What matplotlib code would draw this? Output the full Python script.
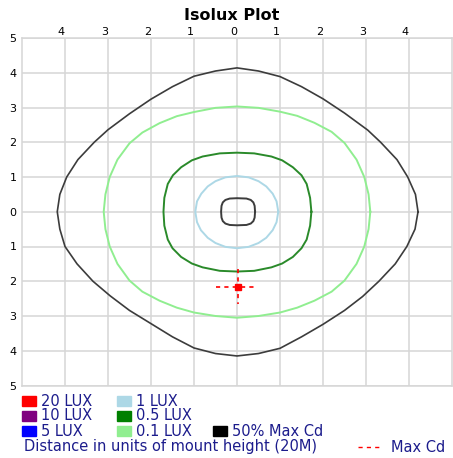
import matplotlib
matplotlib.use("Agg")
import matplotlib.pyplot as plt
from matplotlib.patches import Rectangle

W, H = 453, 458

# contour values (units of mount height)
cd50_x = [4.21, 4.15, 3.97, 3.72, 3.34, 3.04, 2.5, 2.0, 1.5, 1.0, 0.5, 0.0,
          -0.5, -1.0, -1.5, -2.0, -2.5, -3.0, -3.32, -3.7, -3.96, -4.12, -4.18,
          -4.12, -4.0, -3.72, -3.35, -2.95, -2.5, -2.0, -1.5, -1.0, -0.5, 0.0,
          0.5, 1.0, 1.5, 2.0, 2.5, 2.92, 3.30, 3.68, 3.95, 4.14, 4.21]
cd50_y = [0.0, 0.5, 1.0, 1.5, 2.0, 2.35, 2.84, 3.25, 3.6, 3.89, 4.05, 4.14,
          4.05, 3.90, 3.6, 3.24, 2.82, 2.36, 2.0, 1.5, 1.0, 0.5, 0.0,
          -0.5, -1.0, -1.5, -2.0, -2.42, -2.84, -3.22, -3.6, -3.92, -4.08, -4.15,
          -4.08, -3.93, -3.6, -3.24, -2.84, -2.44, -2.0, -1.5, -1.0, -0.5, 0.0]

lux01_x = [3.10, 3.06, 2.96, 2.78, 2.5, 2.2, 1.8, 1.4, 1.0, 0.5, 0.0,
           -0.5, -1.0, -1.4, -1.8, -2.2, -2.5, -2.78, -2.96, -3.06, -3.10,
           -3.06, -2.96, -2.78, -2.5, -2.2, -1.8, -1.4, -1.0, -0.5, 0.0,
           0.5, 1.0, 1.4, 1.8, 2.2, 2.5, 2.78, 2.96, 3.06, 3.10]
lux01_y = [0.0, 0.5, 1.0, 1.5, 1.98, 2.3, 2.56, 2.76, 2.88, 2.99, 3.03,
           2.99, 2.87, 2.75, 2.55, 2.28, 1.97, 1.5, 1.0, 0.5, 0.0,
           -0.5, -1.0, -1.5, -1.98, -2.3, -2.56, -2.76, -2.9, -3.0, -3.05,
           -3.0, -2.9, -2.76, -2.56, -2.3, -1.98, -1.5, -1.0, -0.5, 0.0]

lux05_x = [1.73, 1.70, 1.62, 1.50, 1.30, 1.05, 0.8, 0.4, 0.0,
           -0.4, -0.8, -1.05, -1.3, -1.49, -1.61, -1.69, -1.71,
           -1.69, -1.61, -1.5, -1.3, -1.05, -0.8, -0.4, 0.0,
           0.4, 0.8, 1.05, 1.3, 1.5, 1.62, 1.70, 1.73]
lux05_y = [0.0, 0.4, 0.8, 1.05, 1.28, 1.48, 1.59, 1.68, 1.70,
           1.68, 1.59, 1.48, 1.28, 1.05, 0.8, 0.4, 0.0,
           -0.4, -0.8, -1.05, -1.3, -1.49, -1.60, -1.70, -1.72,
           -1.70, -1.60, -1.49, -1.3, -1.05, -0.8, -0.4, 0.0]

lux1_x = [0.96, 0.92, 0.83, 0.68, 0.5, 0.27, 0.0, -0.27, -0.5, -0.68, -0.83, -0.93, -0.97,
          -0.93, -0.84, -0.68, -0.5, -0.27, 0.0, 0.27, 0.5, 0.68, 0.83, 0.92, 0.96]
lux1_y = [0.0, 0.3, 0.52, 0.73, 0.88, 0.99, 1.03, 0.99, 0.88, 0.73, 0.52, 0.3, 0.0,
          -0.3, -0.53, -0.75, -0.9, -1.01, -1.05, -1.01, -0.9, -0.75, -0.53, -0.3, 0.0]

inner_x = [0.42, 0.41, 0.38, 0.32, 0.22, 0.0, -0.17, -0.27, -0.33, -0.36, -0.37,
           -0.36, -0.33, -0.27, -0.17, 0.0, 0.22, 0.32, 0.38, 0.41, 0.42]
inner_y = [0.0, 0.17, 0.27, 0.34, 0.38, 0.39, 0.38, 0.34, 0.27, 0.17, 0.0,
           -0.17, -0.27, -0.34, -0.38, -0.39, -0.38, -0.34, -0.27, -0.17, 0.0]

max_cd = (0.02, -2.16)

x_ticks = [-4, -3, -2, -1, 0, 1, 2, 3, 4]
y_ticks = [-5, -4, -3, -2, -1, 0, 1, 2, 3, 4, 5]

legend_rows = [
    [("20 LUX", "#ff0000"), ("1 LUX", "#add8e6"), None],
    [("10 LUX", "#800080"), ("0.5 LUX", "#008000"), None],
    [("5 LUX", "#0000ff"), ("0.1 LUX", "#90ee90"), ("50% Max Cd", "#000000")],
]

TXT = "#1c1c8c"
GRID = "#d6d6d6"


def px(x, y):
    # pixel position -> figure fraction
    return x / W, 1 - y / H


fig = plt.figure(figsize=(W / 100, H / 100), dpi=100)
ax = fig.add_axes([22 / W, 72.5 / H, 430 / W, 347.5 / H])
ax.set_xlim(-5, 5)
ax.set_ylim(-5, 5)

ax.set_xticks(x_ticks)
ax.set_yticks(y_ticks)
ax.set_xticklabels([str(abs(v)) for v in x_ticks])
ax.set_yticklabels([str(abs(v)) for v in y_ticks])
ax.xaxis.tick_top()
ax.tick_params(length=0, labelsize=8, pad=1)
ax.tick_params(axis="y", pad=4)
for lab in ax.get_xticklabels():
    lab.set_horizontalalignment("right")
ax.grid(True, color=GRID, lw=1.1)
ax.set_axisbelow(True)
for s in ax.spines.values():
    s.set_color(GRID)
    s.set_linewidth(1.1)

ax.plot(lux01_x, lux01_y, color="#90ee90", lw=1.4)
ax.plot(lux05_x, lux05_y, color="#2a8a2a", lw=1.4)
ax.plot(lux1_x, lux1_y, color="#add8e6", lw=1.4)
ax.plot(cd50_x, cd50_y, color="#3c3c3c", lw=1.2)
ax.plot(inner_x, inner_y, color="#3c3c3c", lw=1.4)

mx, my = max_cd
ax.plot([mx - 0.5, mx + 0.45], [my, my], color="red", lw=1.2, ls=(0, (2.5, 2.5)))
ax.plot([mx, mx], [my + 0.5, my - 0.5], color="red", lw=1.2, ls=(0, (2.5, 2.5)))
ax.plot([mx], [my], marker="s", ms=5, color="red", ls="none")

fig.text(*px(232, 15), "Isolux Plot", ha="center", va="center",
         fontsize=11.5, fontweight="bold")

# legend block
col_x = [22, 117, 213]
row_y = [401, 416, 431]
for r, row in enumerate(legend_rows):
    for c, item in enumerate(row):
        if item is None:
            continue
        label, color = item
        x0, y0 = px(col_x[c], row_y[r] + 5)
        fig.add_artist(Rectangle((x0, y0), 14 / W, 10 / H, color=color,
                                 transform=fig.transFigure))
        fig.text(*px(col_x[c] + 19, row_y[r]), label, ha="left", va="center",
                 fontsize=10.5, color=TXT)

fig.text(*px(24, 447), "Distance in units of mount height (20M)", ha="left",
         va="center", fontsize=10.5, color=TXT)
fig.add_artist(plt.Line2D([358 / W, 383 / W], [1 - 447 / H, 1 - 447 / H],
                          color="red", lw=1, ls=(0, (3, 3)),
                          transform=fig.transFigure))
fig.text(*px(391, 447), "Max Cd", ha="left", va="center", fontsize=10.5, color=TXT)

fig.savefig("out.png", dpi=100)
